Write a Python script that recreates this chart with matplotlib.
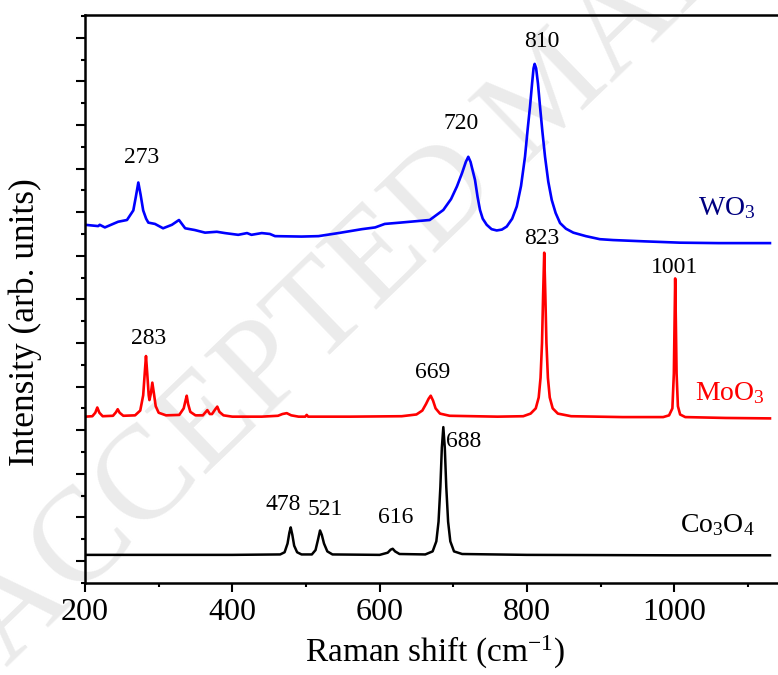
import matplotlib
matplotlib.use("Agg")
import matplotlib.pyplot as plt
from matplotlib.ticker import MultipleLocator


plt.rcParams['font.family'] = ['Liberation Serif', 'DejaVu Serif']
plt.rcParams['mathtext.fontset'] = 'custom'
plt.rcParams['mathtext.rm'] = 'Liberation Serif'
plt.rcParams['mathtext.it'] = 'Liberation Serif:italic'

# spectra (x in cm-1, y in arbitrary offset units)
wo3_x = [200, 218, 220, 227, 245, 257, 265.6, 269, 272.4, 275.5, 279, 283, 286, 295, 306, 318, 327.6, 336, 349, 363,
         379, 390, 408, 420, 426, 440, 451, 458, 494, 517, 544, 576, 594, 607, 628, 668, 686.5, 697, 705, 712,
         717, 720.4, 723.5, 729.5, 733, 736.3, 740, 745.4, 752, 759, 766, 772.6, 780, 786.2, 792, 797.4, 801, 804.2, 807, 809,
         810.5, 812.5, 815, 817.8, 821, 824.6, 829, 833.7, 839, 845, 853, 863, 880, 899, 917, 960, 1008, 1060, 1130]
wo3_y = [7.71, 7.68, 7.71, 7.65, 7.78, 7.82, 8.04, 8.35, 8.68, 8.40, 8.04, 7.85, 7.76, 7.73, 7.63, 7.71, 7.82, 7.63, 7.59, 7.53,
         7.55, 7.52, 7.48, 7.52, 7.48, 7.52, 7.50, 7.45, 7.44, 7.45, 7.52, 7.61, 7.65, 7.73, 7.76, 7.82, 8.05, 8.30, 8.59, 8.90,
         9.15, 9.27, 9.15, 8.74, 8.35, 8.05, 7.85, 7.71, 7.61, 7.58, 7.60, 7.67, 7.85, 8.13, 8.60, 9.27, 9.90, 10.42, 10.95, 11.30,
         11.40, 11.30, 10.95, 10.42, 9.85, 9.27, 8.70, 8.28, 7.98, 7.75, 7.62, 7.53, 7.45, 7.38, 7.36, 7.33, 7.30, 7.29, 7.29]

moo3_x = [200, 210, 214, 216.7, 219.5, 224, 238, 242, 244.4, 247, 252, 268, 275, 279, 281.5, 282.8, 284.5, 286.5, 287.5, 289.5,
          291.4, 293.5, 296, 300, 310, 328, 334, 336.5, 338.1, 340, 343, 350, 360, 366.1, 369.5, 372.5, 376.5, 379.6, 382.5, 388,
          400, 440, 462, 468, 473.9, 480, 490, 499, 501, 503, 560, 630, 650, 658, 663, 666.5, 669.4, 672.5, 676, 682,
          695, 760, 795, 805, 812, 816, 818.5, 820.5, 822, 823.5, 825, 826.5, 828.5, 831, 835, 842, 860, 930, 985, 993,
          997.5, 999.5, 1000.5, 1001.3, 1002.2, 1003.2, 1005, 1008, 1015, 1070, 1130]
moo3_y = [3.31, 3.32, 3.40, 3.52, 3.40, 3.32, 3.33, 3.41, 3.48, 3.40, 3.33, 3.34, 3.45, 3.80, 4.40, 4.70, 4.30, 3.80, 3.69, 3.85,
          4.09, 3.85, 3.55, 3.40, 3.34, 3.35, 3.50, 3.68, 3.79, 3.60, 3.42, 3.34, 3.34, 3.46, 3.37, 3.37, 3.47, 3.54, 3.42, 3.34,
          3.31, 3.31, 3.33, 3.37, 3.39, 3.34, 3.31, 3.31, 3.35, 3.31, 3.31, 3.32, 3.36, 3.45, 3.60, 3.72, 3.79, 3.68, 3.50, 3.38,
          3.33, 3.31, 3.32, 3.38, 3.50, 3.75, 4.20, 5.00, 6.10, 7.07, 6.10, 5.00, 4.20, 3.75, 3.50, 3.38, 3.32, 3.30, 3.30, 3.34,
          3.50, 4.30, 5.50, 6.48, 5.50, 4.30, 3.55, 3.36, 3.30, 3.28, 3.27]

co3o4_x = [200, 300, 400, 465, 471, 475, 477.5, 479.3, 481.5, 484, 488, 494, 508, 513, 516.5, 519.1, 521.5, 524.5, 529, 536,
           600, 611, 615, 617.8, 621, 627, 662, 672, 677, 680, 682.5, 684.5, 686.5, 688.5, 690.5, 693, 696, 701, 712, 800,
           1000, 1130]
co3o4_y = [0.14, 0.14, 0.14, 0.15, 0.20, 0.40, 0.65, 0.77, 0.60, 0.35, 0.20, 0.15, 0.15, 0.25, 0.50, 0.70, 0.60, 0.40, 0.22, 0.15,
           0.14, 0.19, 0.26, 0.28, 0.22, 0.16, 0.15, 0.22, 0.45, 0.90, 1.70, 2.60, 3.07, 2.60, 1.70, 0.90, 0.45, 0.22, 0.16, 0.14,
           0.13, 0.13]

peak_labels = ['273', '720', '810', '823', '1001', '283', '669', '478', '521', '616', '688']
peak_label_pos = [(277, 9.01), (711, 9.79), (820, 11.67), (820, 7.15), (1000, 6.50), (286, 4.86),
                  (672, 4.09), (469, 1.06), (526, 0.94), (622, 0.75)]

fig = plt.figure(figsize=(7.78, 6.75), dpi=100)
ax = fig.add_axes([85 / 778, 92 / 675, 699.7 / 778, 567.5 / 675])
ax.set_zorder(1)
ax.patch.set_alpha(0)

# watermark
fig.text(0.71, 0.86, 'ACCEPTED MANUSCRIPT', fontsize=96, color='#ebebeb',
         rotation=44, ha='center', va='center', zorder=0)

ax.plot(wo3_x, wo3_y, color='#0000ff', lw=1.9, solid_joinstyle='round')
ax.plot(moo3_x, moo3_y, color='#ff0000', lw=1.9, solid_joinstyle='round')
ax.plot(co3o4_x, co3o4_y, color='black', lw=1.8, solid_joinstyle='round')

for lab, (px, py) in zip(peak_labels[:-1], peak_label_pos):
    ax.text(px, py, lab, fontsize=17, ha='center', va='bottom')
ax.text(690, 2.51, peak_labels[-1], fontsize=17, ha='left', va='bottom')

ax.text(1032, 7.94, 'WO$_3$', fontsize=20, color='#000080', ha='left', va='baseline')
ax.text(1028, 3.69, 'MoO$_3$', fontsize=20, color='#ff0000', ha='left', va='baseline')
ax.text(1008, 0.67, 'Co$_3$O$_4$', fontsize=20, color='black', ha='left', va='baseline')

ax.set_xlim(200, 1150)
ax.set_ylim(-0.505, 12.51)
ax.xaxis.set_major_locator(MultipleLocator(200))
ax.xaxis.set_minor_locator(MultipleLocator(100))
ax.yaxis.set_major_locator(MultipleLocator(1))
ax.yaxis.set_minor_locator(MultipleLocator(0.5))
ax.set_yticklabels([])
ax.tick_params(which='both', direction='out', width=1.5, labelsize=23, top=False, right=False)
ax.tick_params(which='major', length=6.5, pad=4)
ax.tick_params(which='minor', length=3)
for s in ax.spines.values():
    s.set_linewidth(1.8)

ax.set_xlabel('Raman shift (cm$^{-1}$)', fontsize=24, labelpad=5)
ax.set_ylabel('Intensity (arb. units)', fontsize=25.5)
ax.yaxis.set_label_coords(-0.062, 0.46)

fig.savefig('out.png', dpi=100)
